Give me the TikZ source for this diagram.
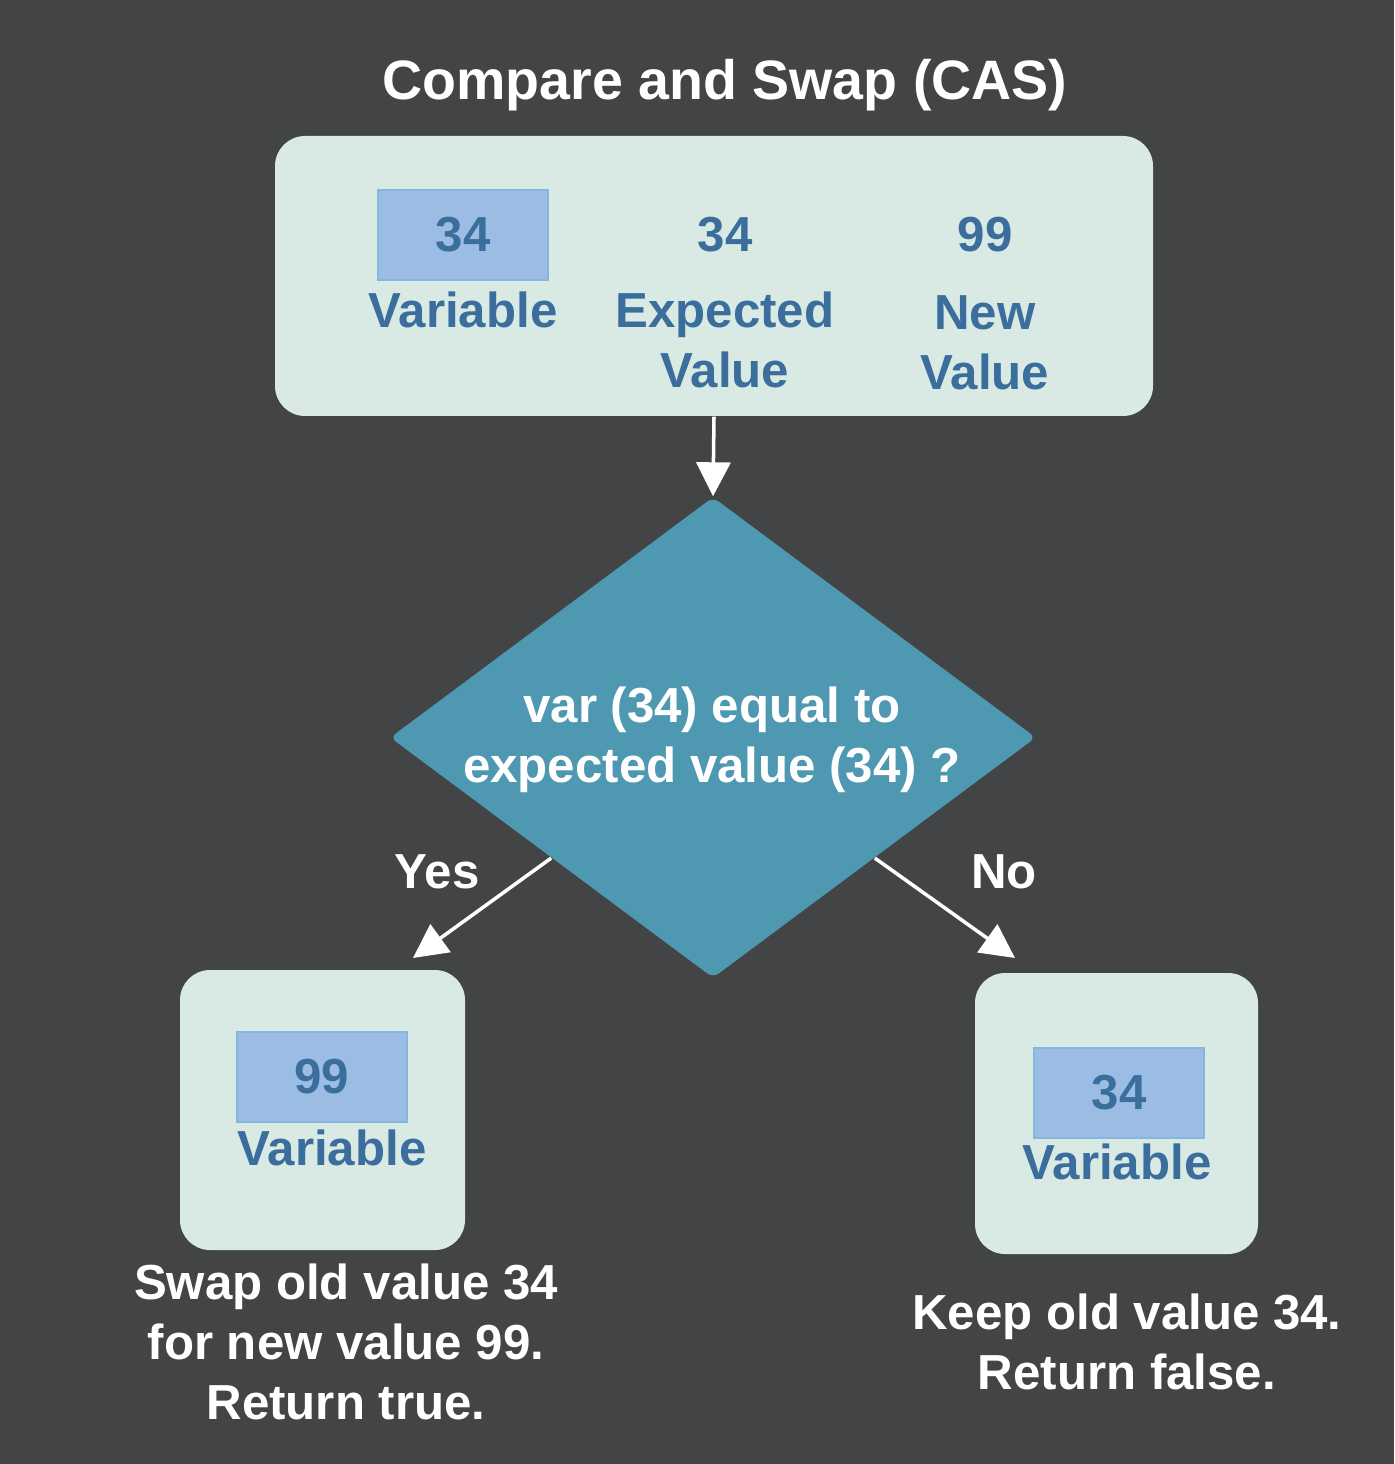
\documentclass[tikz,border=0pt]{standalone}
\usepackage{fontspec}
\setmainfont{Liberation Sans}
\usetikzlibrary{shapes.geometric,arrows.meta,positioning}
\definecolor{bgdark}{HTML}{434446}
\definecolor{panelmint}{HTML}{D8EAE3}
\definecolor{cellblue}{HTML}{9BBDE3}
\definecolor{cellrim}{HTML}{86B6E0}
\definecolor{inkblue}{HTML}{3B6E9C}
\definecolor{decteal}{HTML}{4F98B1}
\tikzset{
    panel/.style={fill=panelmint, rounded corners=0.3cm, inner sep=0pt},
    cell/.style={fill=cellblue, draw=cellrim, line width=0.6pt, minimum width=1.7cm, minimum height=0.9cm, inner sep=0pt},
    bluetxt/.style={text=inkblue, font=\bfseries\fontsize{14}{17}\selectfont, align=center, inner sep=0pt},
    whitetxt/.style={text=white, font=\bfseries\fontsize{14}{17}\selectfont, align=center, inner sep=0pt},
    flow/.style={draw=white, line width=1pt, -{Triangle[width=0.34cm,length=0.34cm]}},
}
\begin{document}
\begin{tikzpicture}
        %% background
        \fill[bgdark] (0,0) rectangle (13.94,-14.64);
        \useasboundingbox (0,0) rectangle (13.94,-14.64);
        %% title
        \node[whitetxt, font=\bfseries\fontsize{15.8}{19}\selectfont] (title) at (7.25,-0.85) {Compare and Swap (CAS)};
        %% inputs
        \node[panel, minimum width=8.78cm, minimum height=2.80cm] (inputs) at (7.14,-2.76) {};
        \node[cell] (varcell) at (4.63,-2.35) {};
        \node[bluetxt] (varnum) at (varcell) {34};
        \node[bluetxt] (varlbl) at (4.63,-3.10) {Variable};
        \node[bluetxt] (expnum) at (7.25,-2.35) {34};
        \node[bluetxt] (explbl) at (7.25,-3.40) {Expected\\Value};
        \node[bluetxt] (newnum) at (9.85,-2.35) {99};
        \node[bluetxt] (newlbl) at (9.85,-3.43) {New\\Value};
        %% decision
        \node[diamond, fill=decteal, rounded corners=2pt, inner sep=0pt, minimum width=6.46cm, minimum height=4.81cm] (check) at (7.13,-7.375) {};
        \node[whitetxt] (question) at (7.12,-7.40) {var (34) equal to\\expected value (34) ?};
        \draw[flow] (inputs.south) -- (check.north);
        %% yes branch
        \node[whitetxt] (yes) at (4.37,-8.72) {Yes};
        \coordinate (yesend) at (4.13,-9.58);
        \draw[flow] (check.south west) -- (yesend);
        \node[panel, minimum width=2.85cm, minimum height=2.80cm] (swapped) at (3.225,-11.10) {};
        \node[cell] (swapcell) at (3.22,-10.77) {};
        \node[bluetxt] (swapnum) at (swapcell) {99};
        \node[bluetxt] (swaplbl) at (3.32,-11.48) {Variable};
        \node[whitetxt] (swapnote) at (3.46,-13.42) {Swap old value 34\\for new value 99.\\Return true.};
        %% no branch
        \node[whitetxt] (no) at (10.04,-8.72) {No};
        \coordinate (noend) at (10.15,-9.58);
        \draw[flow] (check.south east) -- (noend);
        \node[panel, minimum width=2.83cm, minimum height=2.81cm] (kept) at (11.165,-11.135) {};
        \node[cell] (keepcell) at (11.19,-10.93) {};
        \node[bluetxt] (keepnum) at (keepcell) {34};
        \node[bluetxt] (keeplbl) at (11.17,-11.62) {Variable};
        \node[whitetxt] (keepnote) at (11.27,-13.42) {Keep old value 34.\\Return false.};
    \end{tikzpicture}
\end{document}
